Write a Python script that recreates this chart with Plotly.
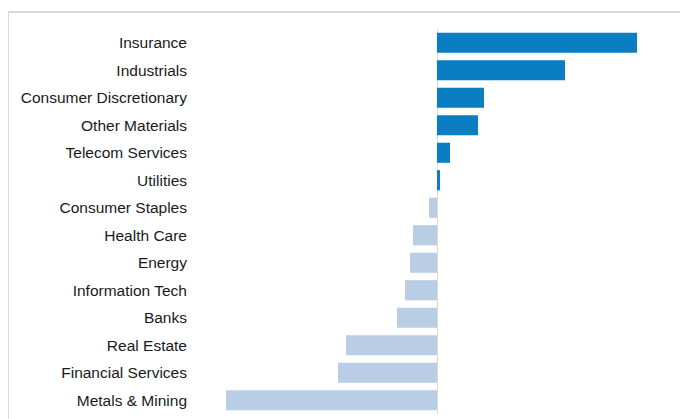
import plotly.graph_objects as go

categories = ["Insurance", "Industrials", "Consumer Discretionary", "Other Materials",
              "Telecom Services", "Utilities", "Consumer Staples", "Health Care", "Energy",
              "Information Tech", "Banks", "Real Estate", "Financial Services", "Metals & Mining"]
values = [2.00, 1.28, 0.47, 0.41, 0.13, 0.03, -0.08, -0.24, -0.27, -0.32, -0.40, -0.91, -0.99, -2.11]

pos_color = "#0b7dc3"
neg_color = "#b9cde5"
colors = [pos_color if v >= 0 else neg_color for v in values]

fig = go.Figure(go.Bar(
    x=values, y=categories, orientation="h",
    marker=dict(color=colors, line=dict(width=0)),
))

plot_w = 492
plot_h = 385
fig.update_layout(
    width=688, height=419,
    margin=dict(l=188, r=8, t=21, b=13),
    paper_bgcolor="white", plot_bgcolor="white",
    bargap=0.27,
    showlegend=False,
    font=dict(family="Liberation Sans, Arial, sans-serif", size=15.5, color="#1a1a1a"),
    xaxis=dict(range=[-2.41, 2.51], showticklabels=False, showgrid=False,
               zeroline=True, zerolinecolor="#d9d9d9", zerolinewidth=1, fixedrange=True),
    yaxis=dict(autorange="reversed", showgrid=False, ticks="", ticklabelstandoff=8,
               tickfont=dict(size=15.5)),
    shapes=[
        dict(type="line", xref="paper", yref="paper", x0=-188 / plot_w, x1=1.05,
             y0=(plot_h + 17) / plot_h, y1=(plot_h + 17) / plot_h,
             line=dict(color="#d9d9d9", width=2)),
        dict(type="line", xref="paper", yref="paper", x0=-188 / plot_w, x1=-188 / plot_w,
             y0=-0.1, y1=(plot_h + 17) / plot_h,
             line=dict(color="#d9d9d9", width=2)),
    ],
)

fig.write_html("out.html")
